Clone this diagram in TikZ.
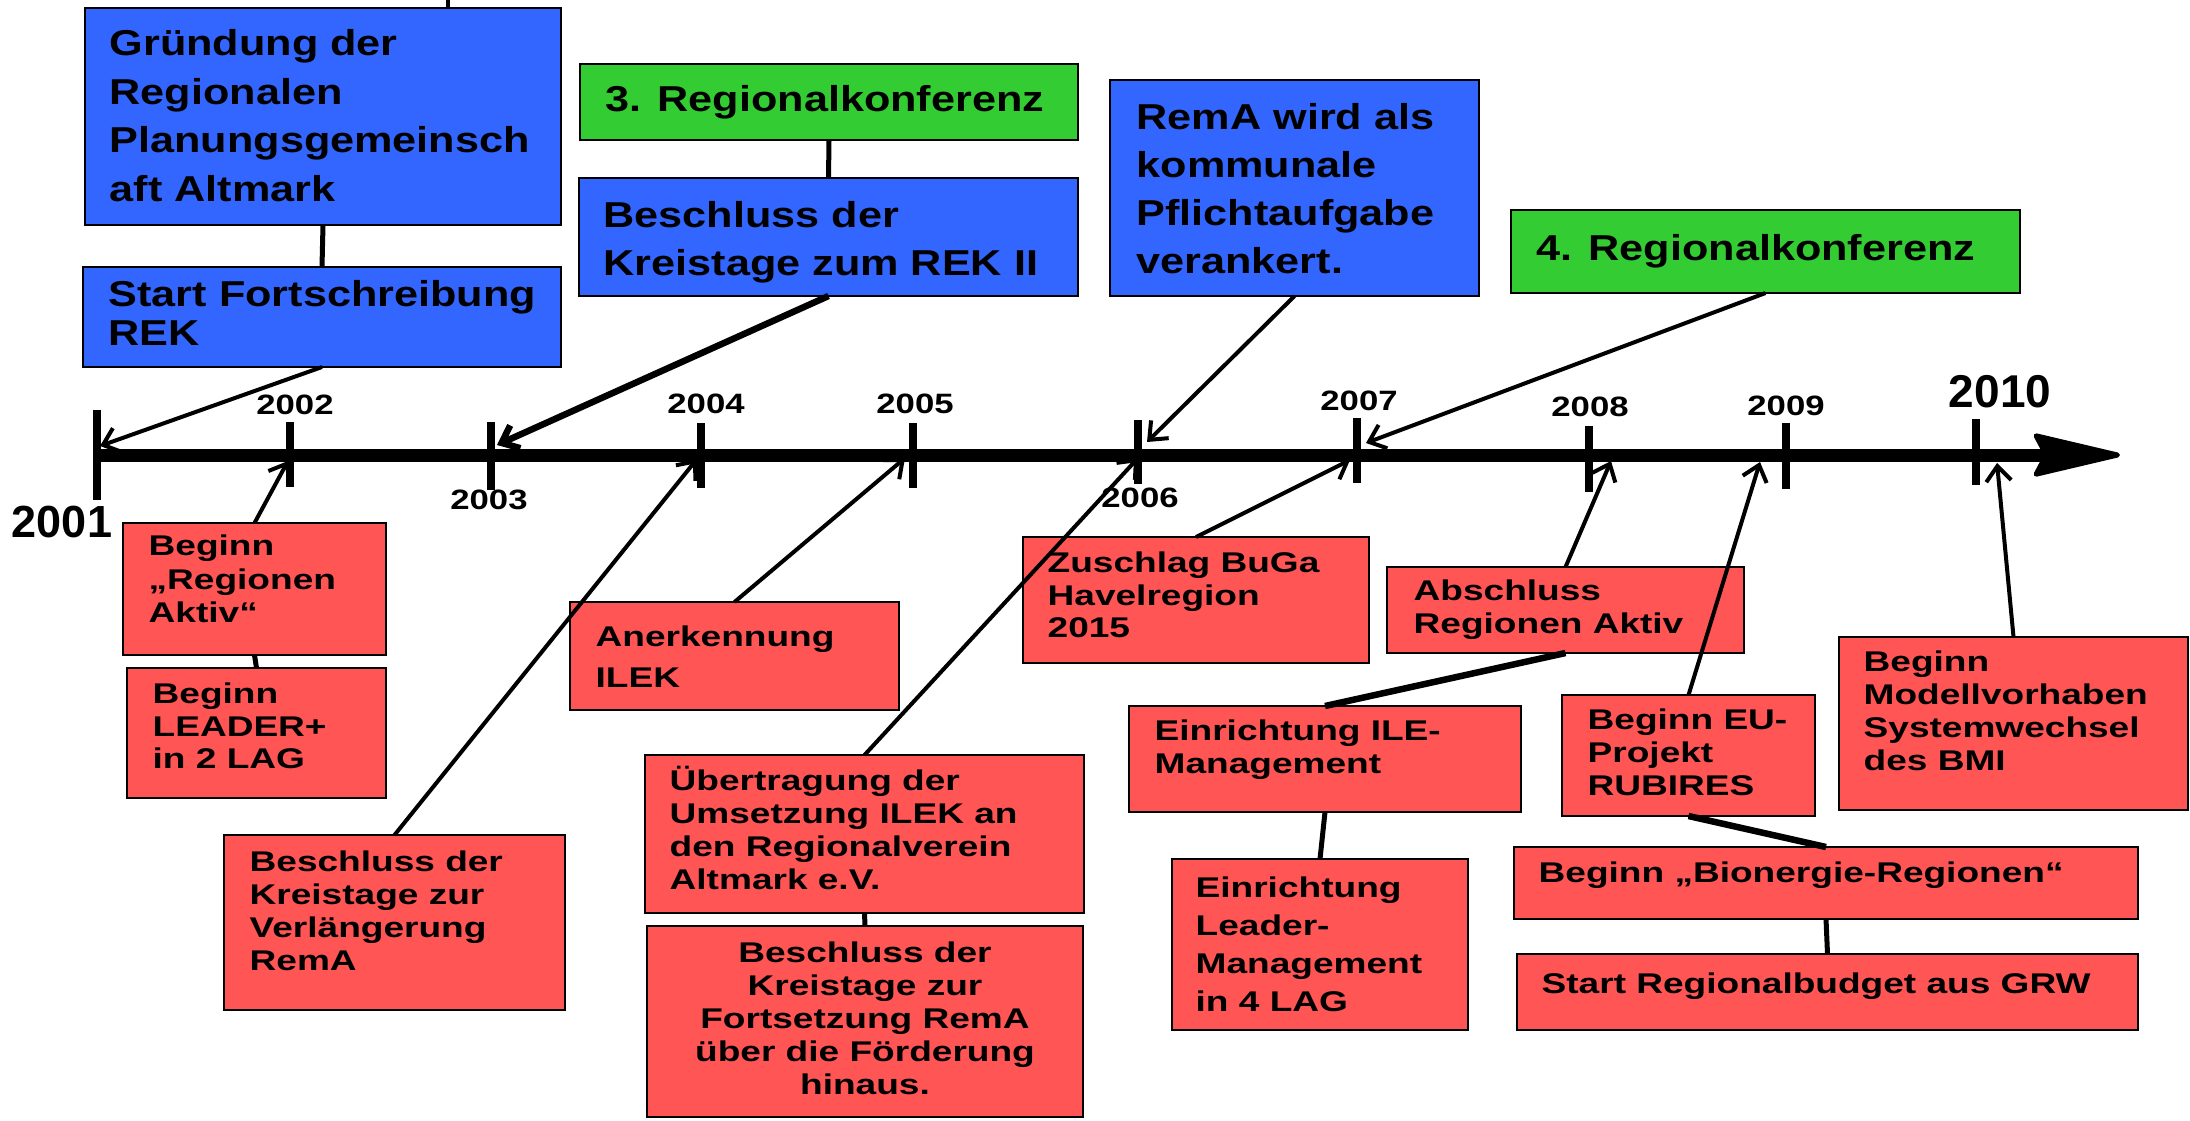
\documentclass[tikz,border=0pt]{standalone}
\usepackage{fontspec}
\usetikzlibrary{arrows.meta}
\newfontfamily\bluef{Liberation Sans}[FakeStretch=1.2]
\newfontfamily\redf{Liberation Sans}[FakeStretch=1.3]
\newfontfamily\yearf{Liberation Sans}[FakeStretch=1.24]
\newfontfamily\bigf{Liberation Sans}
\definecolor{boxblue}{RGB}{51,102,255}
\definecolor{boxgreen}{RGB}{51,204,51}
\definecolor{boxred}{RGB}{255,85,85}
\newcommand\mystrut{\rule{0pt}{1em}}
\newcommand\mkbox[6]{\node[#6, minimum width={(#4-#2)*0.3pt}, minimum height={(#5-#3)*0.3pt}] (#1) at ({(#2+#4)/2},{(#3+#5)/2}) {};}
\tikzset{
  box/.style={rectangle, draw=black, line width=0.8pt, inner sep=0pt, outer sep=0pt},
  bluebox/.style={box, fill=boxblue},
  greenbox/.style={box, fill=boxgreen},
  redbox/.style={box, fill=boxred},
  btxt/.style={anchor=north west, inner sep=0pt, align=left, font=\bluef\bfseries\fontsize{10.8pt}{14.55pt}\selectfont},
  rtxt/.style={anchor=north west, inner sep=0pt, align=left, font=\redf\bfseries\fontsize{8.55pt}{9.9pt}\selectfont},
  yr/.style={inner sep=0pt, font=\yearf\bfseries\fontsize{8.4pt}{10pt}\selectfont},
  bigyr/.style={inner sep=0pt, font=\bigf\bfseries\fontsize{13.5pt}{16pt}\selectfont},
  conn/.style={line width=1.2pt},
  midconn/.style={line width=1.5pt},
  thickconn/.style={line width=1.95pt},
  arr/.style={-{Straight Barb[length=4.5pt,width=7.5pt]}},
  tick/.style={line width=2.55pt},
  axis/.style={line width=3.9pt, -{Stealth[length=29pt,width=13.5pt,inset=3.5pt,round,line width=1.5pt]}}
}
\begin{document}
\begin{tikzpicture}[x=0.3pt,y=-0.3pt]
\useasboundingbox (0,0) rectangle (2190,1120);
% axis
\coordinate (ax0) at (97,455);
\coordinate (ax1) at (2120,455);
\draw[axis] (ax0) -- (ax1);
\draw[tick] (97,410) -- (97,500);
\draw[tick] (290,422) -- (290,487);
\draw[tick] (491,422) -- (491,490);
\draw[tick] (701,423) -- (701,488);
\draw[tick] (913,423) -- (913,488);
\draw[tick] (1138,420) -- (1138,484);
\draw[tick] (1357,418) -- (1357,483);
\draw[tick] (1589,426) -- (1589,492);
\draw[tick] (1786,423) -- (1786,489);
\draw[tick] (1976,419) -- (1976,485);
% year labels
\node[bigyr] (y2001) at (62,522) {2001};
\node[yr] (y2002) at (295,405) {2002};
\node[yr] (y2003) at (489,500) {2003};
\node[yr] (y2004) at (706,404) {2004};
\node[yr] (y2005) at (915,404) {2005};
\node[yr] (y2006) at (1140,497.5) {2006};
\node[yr] (y2007) at (1359,401) {2007};
\node[yr] (y2008) at (1590,407) {2008};
\node[yr] (y2009) at (1786,405.5) {2009};
\node[bigyr, font=\bigf\bfseries\fontsize{13.8pt}{16pt}\selectfont] (y2010) at (2000,392) {2010};
% boxes
\mkbox{B1}{85}{8}{561}{225}{bluebox}
\mkbox{B2}{83}{267}{561}{367}{bluebox}
\mkbox{G3}{580}{64}{1078}{140}{greenbox}
\mkbox{B3}{579}{178}{1078}{296}{bluebox}
\mkbox{B4}{1110}{80}{1479}{296}{bluebox}
\mkbox{G4}{1511}{210}{2020}{293}{greenbox}
\mkbox{R1}{123}{523}{386}{655}{redbox}
\mkbox{R2}{127}{668}{386}{798}{redbox}
\mkbox{R3}{224}{835}{565}{1010}{redbox}
\mkbox{R4}{570}{602}{899}{710}{redbox}
\mkbox{R5}{645}{755}{1084}{913}{redbox}
\mkbox{R6}{647}{926}{1083}{1117}{redbox}
\mkbox{R7}{1023}{537}{1369}{663}{redbox}
\mkbox{R8}{1129}{706}{1521}{812}{redbox}
\mkbox{R9}{1387}{567}{1744}{653}{redbox}
\mkbox{R10}{1172}{859}{1468}{1030}{redbox}
\mkbox{R11}{1562}{695}{1815}{816}{redbox}
\mkbox{R12}{1839}{637}{2188}{810}{redbox}
\mkbox{R13}{1514}{847}{2138}{919}{redbox}
\mkbox{R14}{1517}{954}{2138}{1030}{redbox}
% texts
\node[btxt] (B1t) at (109,19) {\mystrut Gründung der\\Regionalen\\Planungsgemeinsch\\aft Altmark};
\node[btxt, font=\bluef\bfseries\fontsize{10.8pt}{11.7pt}\selectfont] (B2t) at (108,270) {\mystrut Start Fortschreibung\\REK};
\node[btxt] (G3t) at (605,75) {\mystrut 3. Regionalkonferenz};
\node[btxt, font=\bluef\bfseries\fontsize{10.8pt}{14.4pt}\selectfont] (B3t) at (603,191) {\mystrut Beschluss der\\Kreistage zum REK II};
\node[btxt, font=\bluef\bfseries\fontsize{10.8pt}{14.4pt}\selectfont] (B4t) at (1136,93) {\mystrut RemA wird als\\kommunale\\Pflichtaufgabe\\verankert.};
\node[btxt] (G4t) at (1536,224) {\mystrut 4. Regionalkonferenz};
\node[rtxt, font=\redf\bfseries\fontsize{8.55pt}{10.05pt}\selectfont] (R1t) at (148,526.5) {\mystrut Beginn\\„Regionen\\Aktiv“};
\node[rtxt, font=\redf\bfseries\fontsize{8.55pt}{9.75pt}\selectfont] (R2t) at (152,674.5) {\mystrut Beginn\\LEADER+\\in 2 LAG};
\node[rtxt] (R3t) at (249,842.5) {\mystrut Beschluss der\\Kreistage zur\\Verlängerung\\RemA};
\node[rtxt, font=\redf\bfseries\fontsize{8.55pt}{12.3pt}\selectfont] (R4t) at (595,617.5) {\mystrut Anerkennung\\ILEK};
\node[rtxt] (R5t) at (669,761.5) {\mystrut Übertragung der\\Umsetzung ILEK an\\den Regionalverein\\Altmark e.V.};
\node[rtxt, anchor=north, align=center] (R6t) at (865,933.5) {\mystrut Beschluss der\\Kreistage zur\\Fortsetzung RemA\\über die Förderung\\hinaus.};
\node[rtxt, font=\redf\bfseries\fontsize{8.55pt}{9.75pt}\selectfont] (R7t) at (1047,543.5) {\mystrut Zuschlag BuGa\\Havelregion\\2015};
\node[rtxt] (R8t) at (1154,711.5) {\mystrut Einrichtung ILE-\\Management};
\node[rtxt] (R9t) at (1413,571.5) {\mystrut Abschluss\\Regionen Aktiv};
\node[rtxt, font=\redf\bfseries\fontsize{8.55pt}{11.4pt}\selectfont] (R10t) at (1195,868.5) {\mystrut Einrichtung\\Leader-\\Management\\in 4 LAG};
\node[rtxt] (R11t) at (1587,700.5) {\mystrut Beginn EU-\\Projekt\\RUBIRES};
\node[rtxt] (R12t) at (1863,642.5) {\mystrut Beginn\\Modellvorhaben\\Systemwechsel\\des BMI};
\node[rtxt] (R13t) at (1538,853.5) {\mystrut Beginn „Bionergie-Regionen“};
\node[rtxt] (R14t) at (1541,964.5) {\mystrut Start Regionalbudget aus GRW};
% arrow targets on the axis
\coordinate (a2001) at (100,446);
\coordinate (a2002) at (288,461);
\coordinate (a2003) at (497,445);
\coordinate (a2004) at (697,459);
\coordinate (a2005) at (905,458);
\coordinate (a2006) at (1147,442);
\coordinate (b2006) at (1138,458);
\coordinate (a2007) at (1366,443);
\coordinate (b2007) at (1350,460);
\coordinate (a2008) at (1611,461);
\coordinate (a2009) at (1760,462);
\coordinate (a2010) at (1997,463);
\coordinate (topc) at (448,0);
% box-to-box connectors
\draw[conn] (topc) -- (topc |- B1.north);
\draw[midconn] (B1.south) -- (B2.north);
\draw[midconn] (G3.south) -- (B3.north);
\draw[midconn] (R1.south) -- (R2.north);
\draw[midconn] (R5.south) -- (R6.north);
\draw[midconn] (R8.south) -- (R10.north);
\draw[midconn] (R13.south) -- (R14.north);
\draw[thickconn] (R9.south) -- (R8.north);
\draw[thickconn] (R11.south) -- (R13.north);
% arrows to the axis
\draw[conn, arr] (B2.south) -- (a2001);
\draw[thickconn, arr] (B3.south) -- (a2003);
\draw[conn, arr] (B4.south) -- (a2006);
\draw[conn, arr] (G4.south) -- (a2007);
\draw[conn, arr] (R1.north) -- (a2002);
\draw[conn, arr] (R3.north) -- (a2004);
\draw[conn, arr] (R4.north) -- (a2005);
\draw[conn, arr] (R5.north) -- (b2006);
\draw[conn, arr] (R7.north) -- (b2007);
\draw[conn, arr] (R9.north) -- (a2008);
\draw[conn, arr] (R11.north) -- (a2009);
\draw[conn, arr] (R12.north) -- (a2010);
\end{tikzpicture}
\end{document}
